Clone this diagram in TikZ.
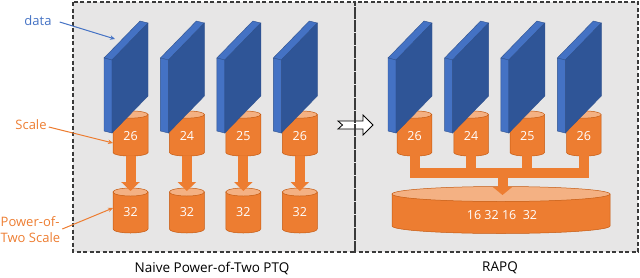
\documentclass[tikz,border=0pt]{standalone}
\usepackage{fontspec}
\setmainfont{Open Sans}
\usetikzlibrary{arrows.meta}
\definecolor{dblue}{HTML}{2F5597}
\definecolor{lblue}{HTML}{4472C4}
\definecolor{eblue}{HTML}{2F528F}
\definecolor{org}{HTML}{ED7D31}
\definecolor{lorg}{HTML}{F4B183}
\definecolor{dorg}{HTML}{C55A11}
\definecolor{panelgray}{HTML}{E7E6E6}
\definecolor{bordergray}{HTML}{3A3A3A}
\tikzset{
  panel/.style={fill=panelgray},
  panelborder/.style={draw=bordergray,line width=1.2pt,dash pattern=on 4pt off 2.5pt},
  numtxt/.style={text=white,font=\fontsize{12.5}{14}\selectfont,inner sep=0pt},
  lbl/.style={font=\fontsize{13}{16}\selectfont,inner sep=0pt},
  caption/.style={font=\fontsize{13.5}{16}\selectfont,inner sep=0pt},
  bluearrow/.style={draw=lblue,line width=1pt,-{Stealth[length=5pt,width=4.5pt]}},
  orgarrow/.style={draw=org,line width=1pt,-{Stealth[length=5pt,width=4.5pt]}},
  flow/.style={draw=org,line width=10pt,-{Triangle[width=18pt,length=9pt]}},
  barline/.style={draw=org,line width=10pt,line join=miter},
}
% cylinder: #1 cx, #2 rx, #3 ytop, #4 ybot, #5 ry
\newcommand\mycyl[5]{%
  \filldraw[fill=org,draw=dorg,line width=0.5pt] (#1-#2,#3) -- (#1-#2,#4)
    arc[start angle=180,end angle=360,x radius=#2pt,y radius=#5pt] -- (#1+#2,#3) -- cycle;
  \filldraw[fill=lorg,draw=dorg,line width=0.5pt] (#1,#3) ellipse[x radius=#2pt,y radius=#5pt];
}
% slab: #1 cx
\newcommand\myslab[1]{%
  \filldraw[fill=lblue,draw=eblue,line width=0.4pt] (#1-26.5,58) -- (#1-18.5,60) -- (#1+17.5,23) -- (#1+9.5,21) -- cycle;
  \filldraw[fill=lblue,draw=eblue,line width=0.4pt] (#1-26.5,58) -- (#1-18.5,60) -- (#1-18.5,133) -- (#1-26.5,131) -- cycle;
  \filldraw[fill=dblue,draw=eblue,line width=0.4pt] (#1-18.5,60) -- (#1+17.5,23) -- (#1+17.5,96) -- (#1-18.5,133) -- cycle;
}
\begin{document}
\begin{tikzpicture}[x=1pt,y=-1pt]
\useasboundingbox (0,0) rectangle (640,277);
% panels
\fill[panel] (73,2) rectangle (355,252);
\fill[panel] (355,2) rectangle (638,252);
% hollow arrow between panels
\filldraw[fill=white,draw=black,line width=0.8pt] (338,121) -- (363,121) -- (363,115) -- (373,125) -- (363,135) -- (363,129) -- (338,129) -- (342.5,125) -- cycle;
\draw[panelborder] (73,2) rectangle (355,252);
\draw[panelborder] (355,2) rectangle (638,252);

% ---------- left panel ----------
\foreach \cx/\v [count=\i] in {130.5/26,186.9/24,243.3/25,299.8/26}{
  \mycyl{\cx}{17.5}{114.5}{152.5}{3.6}
  \node[numtxt] (s\i) at (\cx,136) {\v};
  \mycyl{\cx}{17.5}{192}{229}{4}
  \node[numtxt] (p\i) at (\cx,212.5) {32};
  \draw[flow] (\cx,156) -- (\cx,191);
  \myslab{\cx}
}

% ---------- right panel ----------
\filldraw[fill=org,draw=dorg,line width=0.5pt] (392,194) -- (392,226)
  arc[start angle=180,end angle=360,x radius=109pt,y radius=7.5pt] -- (610,194) -- cycle;
\filldraw[fill=lorg,draw=dorg,line width=0.5pt] (501,194) ellipse[x radius=109pt,y radius=7.5pt];
\node[numtxt] (big) at (502,215) {16 32 16\ \ 32};
\foreach \cx/\v [count=\i] in {414.5/26,471.1/24,527.3/25,583.8/26}{
  \mycyl{\cx}{17.3}{114.5}{152.5}{3.6}
  \node[numtxt] (r\i) at (\cx,136) {\v};
  \myslab{\cx}
}
\draw[barline] (414.5,155) -- (414.5,173) -- (583.8,173) -- (583.8,155);
\draw[barline] (471.1,155) -- (471.1,173);
\draw[barline] (527.3,155) -- (527.3,173);
\draw[flow,-{Triangle[width=19pt,length=8pt]}] (502.5,172) -- (502.5,195);

% ---------- labels ----------
\node[lbl,text=lblue] (datalbl) at (38,21) {data};
\coordinate (datatgt) at (115,39);
\draw[bluearrow] ([shift={(8,1)}]datalbl.east) -- (datatgt);

\node[lbl,text=org] (scalelbl) at (31,125) {Scale};
\coordinate (scaletgt) at (113,143);
\draw[orgarrow] ([shift={(2,2)}]scalelbl.east) -- (scaletgt);

\node[lbl,text=org,align=left,anchor=west] (potlbl) at (0.5,230) {Power-of-\\Two Scale};
\coordinate (pottgt) at (113,208);
\draw[orgarrow] ([shift={(2,-1)}]potlbl.east) -- (pottgt);

\node[caption] (cap1) at (212,268) {Naive Power-of-Two PTQ};
\node[caption] (cap2) at (500,268) {RAPQ};
\end{tikzpicture}
\end{document}
